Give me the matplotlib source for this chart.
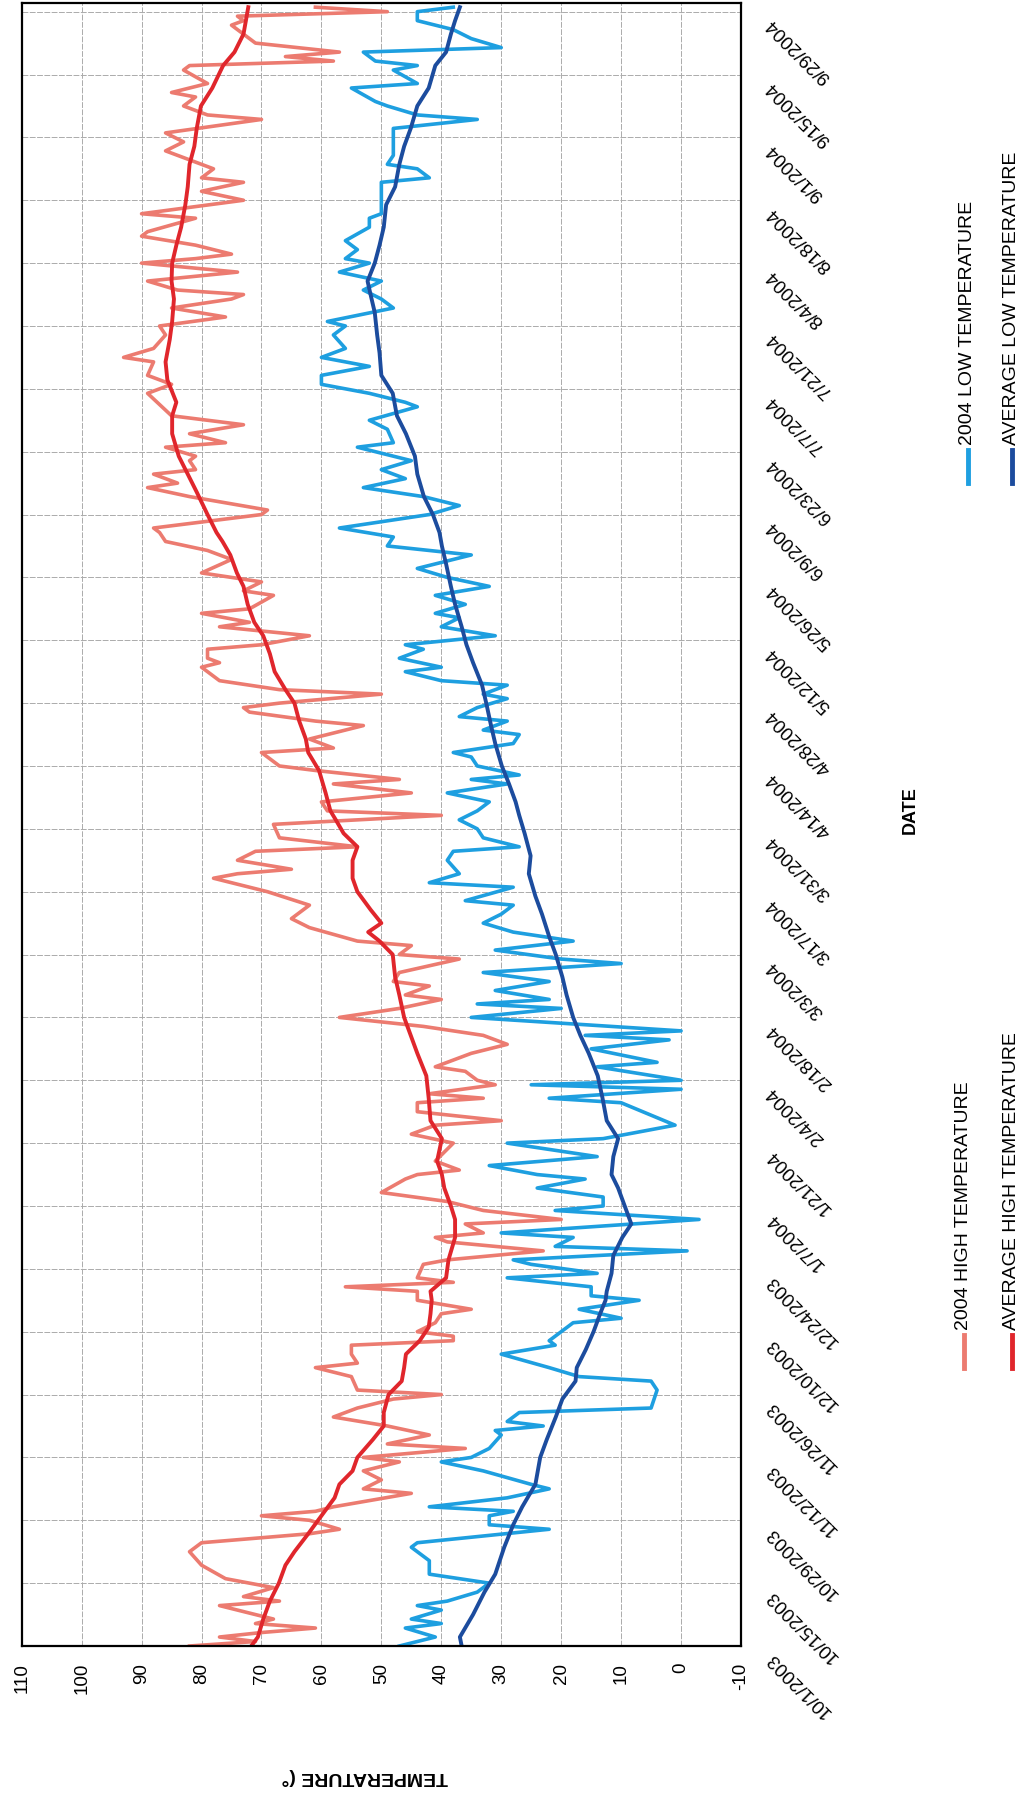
import numpy as np
import matplotlib
matplotlib.use('Agg')
import matplotlib.pyplot as plt
import matplotlib.dates as mdates
from matplotlib.transforms import offset_copy, blended_transform_factory
from matplotlib.lines import Line2D

plt.rcParams['font.family'] = ['Liberation Sans', 'DejaVu Sans']

# day offsets from 10/1/2003, temperatures in deg F
start = np.datetime64('2003-10-01')

hi_days = [0, 1, 2, 3, 4, 5, 6, 9, 10, 11, 13, 15, 18, 21, 22, 23, 25, 26, 28, 29,
           30, 31, 34, 35, 37, 39, 41, 42, 44, 45, 47, 49, 51, 53, 55, 56, 57, 60, 62, 63,
           65, 67, 68, 69, 70, 72, 74, 75, 77, 79, 80, 81, 82, 85, 86, 88, 90, 91, 92, 94,
           95, 97, 99, 101, 104, 105, 106, 108, 112, 114, 116, 117, 119, 121, 122, 123, 125, 126, 128, 129,
           132, 134, 136, 138, 140, 142, 144, 145, 147, 148, 150, 153, 154, 156, 157, 160, 162, 165, 168, 171,
           172, 173, 175, 177, 178, 180, 183, 185, 186, 188, 190, 192, 193, 195, 196, 199, 200, 202, 205, 206,
           208, 209, 210, 212, 213, 215, 218, 219, 220, 222, 223, 225, 227, 228, 230, 231, 234, 235, 237, 239,
           242, 244, 246, 248, 249, 252, 253, 256, 258, 259, 261, 262, 264, 265, 267, 268, 270, 272, 274, 279,
           281, 283, 286, 287, 289, 292, 294, 296, 298, 300, 301, 302, 304, 306, 308, 309, 310, 312, 314, 315,
           318, 319, 322, 324, 326, 327, 329, 331, 333, 335, 337, 340, 341, 343, 345, 346, 348, 351, 352, 353,
           354, 355, 357, 359, 361, 362, 363, 364, 365]
hi_temps = [82, 71, 77, 70, 61, 71, 68, 77, 67, 73, 68, 76, 80, 82, 81, 80, 62, 57, 62, 70,
            61, 58, 45, 53, 50, 53, 47, 53, 36, 49, 42, 49, 58, 54, 48, 40, 54, 55, 61, 54,
            55, 55, 38, 38, 44, 41, 40, 35, 44, 44, 56, 38, 44, 43, 39, 23, 39, 41, 33, 36,
            20, 33, 39, 50, 46, 44, 37, 41, 38, 45, 41, 30, 44, 44, 33, 42, 31, 34, 36, 41,
            35, 29, 33, 43, 57, 47, 40, 46, 42, 48, 47, 37, 47, 45, 54, 62, 65, 62, 69, 78,
            74, 65, 74, 71, 54, 67, 68, 40, 59, 60, 45, 58, 47, 61, 67, 70, 58, 62, 53, 61,
            72, 73, 67, 50, 67, 77, 80, 77, 79, 79, 70, 62, 77, 72, 80, 72, 68, 73, 70, 80,
            75, 79, 86, 87, 88, 70, 69, 82, 89, 84, 88, 81, 82, 81, 86, 76, 82, 73, 85, 89,
            85, 89, 88, 93, 88, 86, 87, 76, 85, 75, 73, 84, 89, 74, 90, 81, 75, 81, 90, 89,
            81, 90, 73, 80, 73, 80, 78, 82, 86, 83, 86, 70, 79, 83, 81, 85, 79, 83, 82, 58,
            66, 57, 71, 73, 75, 73, 74, 49, 61]

avg_hi_days = [0, 2, 6, 10, 14, 18, 21, 25, 29, 33, 36, 39, 42, 46, 49, 52, 56, 59, 62, 65,
               68, 71, 74, 77, 79, 82, 86, 91, 95, 98, 102, 105, 108, 113, 117, 122, 127, 132, 136, 140,
               145, 149, 154, 157, 159, 161, 164, 168, 171, 175, 178, 181, 184, 186, 190, 195, 199, 202, 206, 210,
               213, 217, 221, 225, 228, 232, 236, 239, 243, 246, 248, 252, 257, 261, 265, 270, 274, 277, 282, 286,
               291, 295, 300, 304, 308, 312, 316, 321, 325, 330, 334, 338, 343, 347, 352, 355, 359, 362, 365]
avg_hi_temps = [71.7, 70.6, 69.7, 68.6, 67.1, 66.0, 64.5, 62.2, 60.0, 57.8, 57.0, 54.8, 54.0, 51.4, 49.6, 49.6, 48.8, 46.6, 46.2, 45.9,
                43.6, 42.1, 41.8, 41.6, 41.8, 39.2, 38.8, 37.7, 37.7, 38.4, 39.5, 39.9, 40.7, 39.9, 41.8, 42.1, 42.5, 44.0, 45.1, 46.2,
                47.0, 47.7, 48.1, 50.3, 52.2, 50.0, 51.8, 54.0, 54.8, 54.8, 54.0, 56.3, 57.6, 58.5, 59.3, 60.4, 62.2, 62.6, 63.7, 64.5,
                66.0, 67.8, 68.6, 69.7, 71.2, 72.3, 73.0, 74.1, 75.2, 76.5, 77.5, 79.0, 80.8, 82.3, 83.8, 84.9, 84.9, 84.2, 85.7, 86.0,
                85.3, 84.9, 84.6, 85.0, 84.9, 84.2, 83.4, 82.7, 82.3, 82.0, 81.2, 80.8, 80.1, 78.2, 76.4, 74.5, 73.0, 72.6, 72.2]

lo_days = [0, 2, 4, 5, 6, 8, 9, 10, 12, 14, 16, 19, 22, 23, 26, 27, 29, 30, 31, 33,
           35, 36, 39, 41, 42, 44, 47, 48, 49, 50, 52, 53, 57, 59, 60, 62, 65, 67, 68, 70,
           72, 73, 75, 77, 78, 80, 82, 83, 85, 86, 88, 89, 91, 92, 95, 97, 98, 100, 102, 104,
           105, 107, 109, 112, 113, 116, 121, 122, 124, 125, 126, 129, 130, 133, 135, 136, 137, 140, 142, 143,
           144, 146, 148, 150, 152, 153, 155, 157, 159, 161, 163, 165, 166, 169, 170, 172, 175, 177, 178, 180,
           182, 184, 186, 188, 190, 192, 193, 194, 196, 198, 199, 201, 203, 204, 206, 207, 209, 211, 212, 214,
           215, 217, 218, 220, 222, 223, 225, 227, 229, 230, 232, 234, 236, 238, 240, 243, 245, 247, 249, 252,
           254, 256, 258, 260, 262, 264, 267, 268, 271, 273, 276, 277, 279, 281, 283, 285, 287, 289, 292, 294,
           295, 298, 300, 302, 304, 306, 308, 309, 311, 313, 316, 318, 319, 322, 326, 327, 329, 330, 332, 335,
           338, 340, 341, 343, 344, 347, 348, 351, 352, 353, 355, 356, 358, 360, 362, 364, 365]
lo_temps = [47, 41, 46, 40, 45, 40, 44, 39, 34, 32, 42, 42, 45, 44, 22, 32, 32, 28, 42, 29,
            22, 25, 33, 40, 35, 32, 30, 31, 23, 29, 27, 5, 4, 5, 17, 22, 30, 21, 22, 20,
            18, 10, 17, 7, 15, 15, 29, 14, 25, 28, -1, 21, 18, 30, -3, 21, 13, 13, 24, 16,
            24, 32, 14, 29, 13, 1, 10, 22, 0, 25, 0, 14, 4, 15, 2, 16, 0, 35, 20, 34,
            22, 31, 22, 33, 10, 20, 31, 18, 28, 33, 30, 28, 36, 28, 42, 37, 39, 38, 27, 33,
            34, 37, 34, 32, 39, 29, 35, 27, 34, 35, 38, 28, 27, 33, 29, 37, 34, 29, 33, 29,
            40, 46, 40, 47, 43, 46, 31, 40, 37, 41, 36, 41, 32, 39, 44, 35, 49, 48, 57, 42,
            37, 43, 53, 46, 50, 45, 54, 48, 49, 52, 44, 46, 52, 60, 60, 52, 60, 56, 58, 56,
            59, 48, 50, 53, 50, 57, 52, 56, 54, 56, 52, 52, 50, 50, 50, 42, 44, 49, 48, 48,
            48, 34, 44, 49, 51, 55, 44, 48, 44, 51, 53, 30, 35, 38, 44, 44, 38]

avg_lo_days = [0, 2, 7, 12, 16, 22, 27, 31, 36, 42, 46, 51, 55, 59, 62, 66, 70, 74, 77, 79,
               83, 87, 91, 94, 98, 102, 105, 109, 113, 117, 122, 127, 132, 136, 140, 145, 149, 154, 158, 163,
               167, 172, 176, 181, 185, 188, 192, 196, 201, 205, 210, 214, 219, 223, 227, 232, 236, 241, 245, 248,
               252, 256, 261, 265, 270, 274, 279, 283, 288, 292, 297, 301, 304, 308, 312, 316, 321, 325, 330, 334,
               338, 343, 347, 352, 355, 359, 362, 365]
avg_lo_temps = [36.6, 36.9, 34.7, 32.8, 31.0, 29.5, 28.0, 26.5, 24.3, 23.5, 22.4, 20.9, 19.8, 17.6, 17.4, 15.9, 14.6, 13.5, 12.6, 12.4,
                11.6, 11.3, 9.8, 8.3, 9.4, 10.5, 11.6, 11.3, 10.5, 12.4, 13.1, 13.9, 15.4, 16.8, 18.0, 19.1, 19.8, 20.9, 22.0, 23.2,
                24.3, 25.4, 25.1, 26.1, 27.0, 27.6, 28.7, 29.9, 31.0, 31.7, 32.5, 33.2, 34.7, 35.8, 36.6, 37.7, 38.4, 39.2, 39.9, 40.3,
                41.4, 42.9, 44.0, 44.4, 45.9, 47.4, 48.1, 50.0, 50.3, 50.7, 51.1, 51.8, 52.3, 51.1, 50.3, 49.6, 49.2, 47.7, 47.0, 46.2,
                45.1, 44.0, 42.1, 41.0, 39.2, 38.4, 37.7, 36.9]

temp_ticks = list(range(-10, 111, 10))
date_ticks = start + np.arange(0, 365, 14).astype('timedelta64[D]')

HI_COLOR = '#EC7B70'
AVG_HI_COLOR = '#E0262C'
LO_COLOR = '#1E9FE0'
AVG_LO_COLOR = '#1C4C9E'


def to_dates(days):
    return start + np.array(days).astype('timedelta64[D]')


W, H = 1027, 1800
fig = plt.figure(figsize=(W / 100, H / 100), dpi=100)
ax = fig.add_axes([21.7 / W, 1 - 1646 / H, (741 - 21.7) / W, (1646 - 2.7) / H])

# chart is laid out on its side: temperature across, dates running upward
ax.plot(hi_temps, to_dates(hi_days), color=HI_COLOR, lw=2.6, solid_joinstyle='round')
ax.plot(lo_temps, to_dates(lo_days), color=LO_COLOR, lw=2.6, solid_joinstyle='round')
ax.plot(avg_hi_temps, to_dates(avg_hi_days), color=AVG_HI_COLOR, lw=2.8)
ax.plot(avg_lo_temps, to_dates(avg_lo_days), color=AVG_LO_COLOR, lw=2.8)

ax.set_xlim(110, -10)
ax.set_ylim(start, start + np.timedelta64(366, 'D'))

ax.set_xticks(temp_ticks)
ax.set_xticklabels([str(t) for t in temp_ticks])
ax.tick_params(axis='x', labelrotation=90, length=0, pad=12, labelsize=13.5)

ax.set_yticks(date_ticks)
ax.set_yticklabels([])
ax.tick_params(axis='y', length=0)

ax.grid(True, color='#ababab', lw=0.7, ls=(0, (6, 1.5)))
for s in ax.spines.values():
    s.set_linewidth(1.6)
    s.set_color('black')

# slanted date labels along the right edge
trans = offset_copy(blended_transform_factory(ax.transAxes, ax.transData),
                    fig=fig, x=16, y=-11, units='points')
for d in date_ticks.astype('datetime64[D]').tolist():
    ax.text(1.0, mdates.date2num(d), f'{d.month}/{d.day}/{d.year}', transform=trans,
            rotation=135, rotation_mode='anchor', ha='right', va='top',
            fontsize=13.5, clip_on=False)

fig.text(365 / W, 1 - 1776 / H, 'TEMPERATURE (°', rotation=180, ha='center', va='center',
         fontsize=14, fontweight='bold')
fig.text(910 / W, 1 - 810 / H, 'DATE', rotation=90, ha='center', va='center',
         fontsize=13, fontweight='bold')

# legend entries, written sideways like the rest of the chart
legend_items = [
    ('2004 HIGH TEMPERATURE', HI_COLOR, 964, 1330),
    ('AVERAGE HIGH TEMPERATURE', AVG_HI_COLOR, 1012, 1330),
    ('2004 LOW TEMPERATURE', LO_COLOR, 968, 445),
    ('AVERAGE LOW TEMPERATURE', AVG_LO_COLOR, 1012, 445),
]
for label, color, x, y0 in legend_items:
    fig.add_artist(Line2D([x / W, x / W], [1 - (y0 + 5) / H, 1 - (y0 + 38) / H],
                          color=color, lw=3.5, transform=fig.transFigure))
    fig.text(x / W, 1 - y0 / H, label, rotation=90, rotation_mode='anchor',
             ha='left', va='center', fontsize=14)

fig.savefig('out.png', dpi=100)
